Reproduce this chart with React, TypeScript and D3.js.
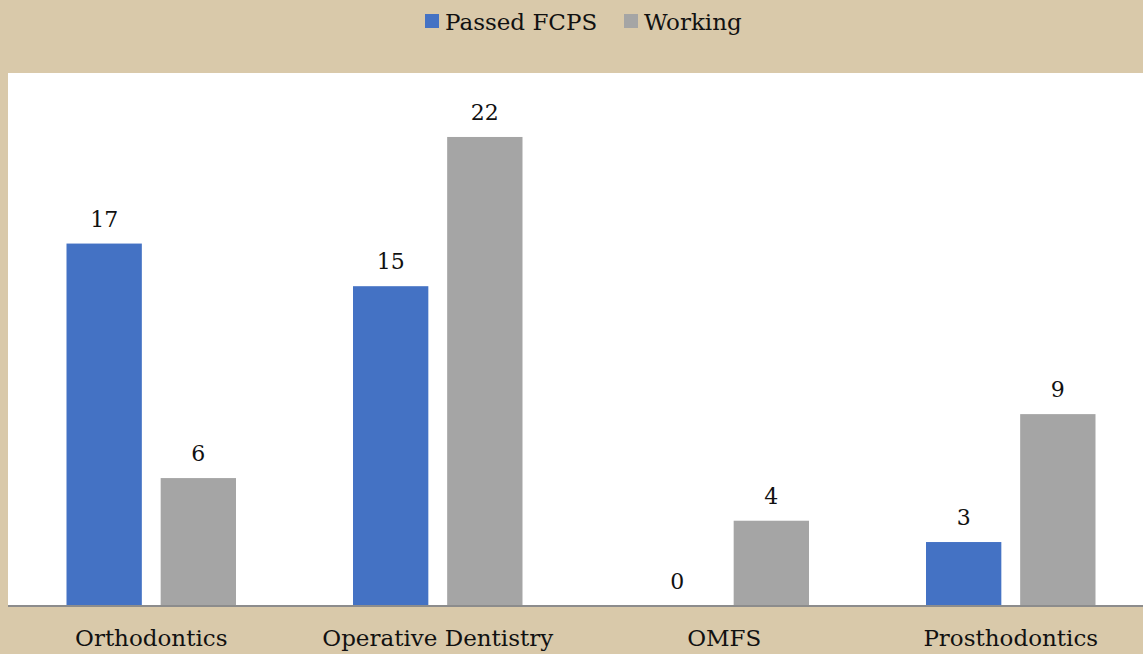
import React, { useEffect, useRef } from 'react'
import * as d3 from 'd3'

const categories = ['Orthodontics', 'Operative Dentistry', 'OMFS', 'Prosthodontics']
const passedFcps = [17, 15, 0, 3]
const working = [6, 22, 4, 9]
const seriesNames = ['Passed FCPS', 'Working']
const seriesColors = ['#4472C4', '#A5A5A5']

const W = 1143
const H = 654
const FONT = "Georgia, 'DejaVu Serif', 'Liberation Serif', serif"

export default function App() {
    const ref = useRef<SVGSVGElement>(null)

    useEffect(() => {
        const svg = d3.select(ref.current)
        svg.selectAll('*').remove()

        const plot = { left: 8, right: 1154, top: 73, bottom: 606 }

        // background + plot area
        svg.append('rect').attr('width', W).attr('height', H).attr('fill', '#D9C9AA')
        svg.append('rect')
            .attr('x', plot.left).attr('y', plot.top)
            .attr('width', W - plot.left).attr('height', plot.bottom - plot.top)
            .attr('fill', '#fff')

        const x0 = d3.scaleBand()
            .domain(categories)
            .range([plot.left, plot.right])
            .paddingInner(0)
            .paddingOuter(0)

        const x1 = d3.scaleBand()
            .domain(seriesNames)
            .range([58.5, x0.bandwidth() - 58.5])
            .paddingInner(0.2)

        const y = d3.scaleLinear().domain([0, 25]).range([plot.bottom, plot.top])

        const data = categories.map((c, i) => ({ c, vals: [passedFcps[i], working[i]] }))

        const groups = svg.append('g').selectAll('g')
            .data(data)
            .enter().append('g')
            .attr('transform', d => 'translate(' + x0(d.c) + ',0)')

        groups.selectAll('rect')
            .data(d => d.vals.map((v, i) => ({ v, s: seriesNames[i], i })))
            .enter().append('rect')
            .attr('x', d => x1(d.s)!)
            .attr('y', d => y(d.v))
            .attr('width', x1.bandwidth())
            .attr('height', d => y(0) - y(d.v))
            .attr('fill', d => seriesColors[d.i])

        groups.selectAll('text.val')
            .data(d => d.vals.map((v, i) => ({ v, s: seriesNames[i] })))
            .enter().append('text')
            .attr('class', 'val')
            .attr('x', d => x1(d.s)! + x1.bandwidth() / 2)
            .attr('y', d => y(d.v) - 17)
            .attr('text-anchor', 'middle')
            .attr('font-family', FONT)
            .attr('font-size', 22)
            .attr('fill', '#111')
            .text(d => d.v)

        // axis line
        svg.append('line')
            .attr('x1', plot.left).attr('x2', W)
            .attr('y1', plot.bottom).attr('y2', plot.bottom)
            .attr('stroke', '#8C8C8C').attr('stroke-width', 2)

        // category labels
        svg.append('g').selectAll('text')
            .data(categories)
            .enter().append('text')
            .attr('x', d => x0(d)! + x0.bandwidth() / 2)
            .attr('y', 646)
            .attr('text-anchor', 'middle')
            .attr('font-family', FONT)
            .attr('font-size', 23)
            .attr('fill', '#111')
            .text(d => d)

        // legend
        const legendX = [425, 624]
        const leg = svg.append('g').selectAll('g')
            .data(seriesNames)
            .enter().append('g')
            .attr('transform', (d, i) => 'translate(' + legendX[i] + ',0)')
        leg.append('rect')
            .attr('x', 0).attr('y', 14)
            .attr('width', 14).attr('height', 14)
            .attr('fill', (d, i) => seriesColors[i])
        leg.append('text')
            .attr('x', 20).attr('y', 30)
            .attr('font-family', FONT)
            .attr('font-size', 23)
            .attr('fill', '#111')
            .text(d => d)
    }, [])

    return (
        <svg ref={ref} width={W} height={H} style={{ position: 'absolute', left: 0, top: 0 }} />
    )
}
